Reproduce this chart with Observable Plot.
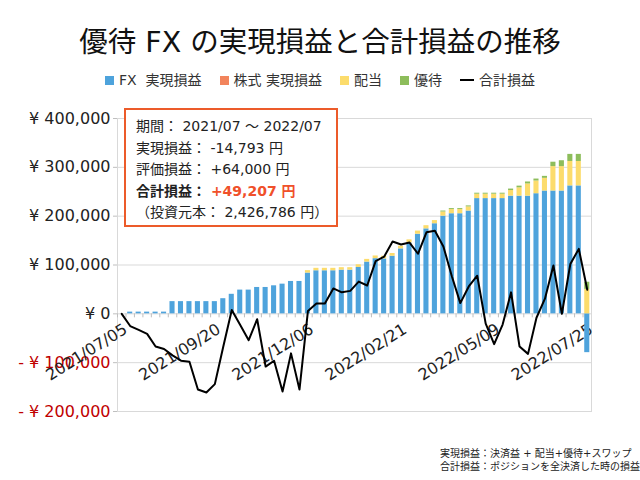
<!DOCTYPE html>
<html><head><meta charset="utf-8">
<script src="https://cdn.jsdelivr.net/npm/d3@7"></script>
<script src="https://cdn.jsdelivr.net/npm/@observablehq/plot@0.6"></script>
<style>
body{margin:0;background:#fff;}
#wrap{position:relative;width:640px;height:480px;overflow:hidden;font-family:"DejaVu Sans","Noto Sans CJK JP",sans-serif;color:#222;}
#chart{position:absolute;left:0;top:0;}
#title{position:absolute;left:0;width:640px;top:25px;text-align:center;font-size:28.5px;line-height:36px;color:#111;}
#legend{position:absolute;left:0;width:640px;top:71px;display:flex;justify-content:center;align-items:center;gap:18px;font-size:14px;line-height:18px;color:#333;}
#legend .it{display:flex;align-items:center;white-space:pre;}
#legend .sw{display:inline-block;width:9px;height:9px;margin-right:5px;}
#legend .ln{display:inline-block;width:14px;height:2px;background:#000;margin-right:5px;}
#box{position:absolute;left:124px;top:108px;border:2px solid #ec5b2a;background:#fff;padding:6px 0 0 10px;box-sizing:border-box;width:214px;height:119px;font-size:14px;line-height:21.5px;color:#222;white-space:pre;}
#box b{font-weight:bold;}
#box .hl{color:#f0502a;font-weight:bold;}
#note{position:absolute;left:440px;top:447px;font-size:10px;line-height:13px;color:#222;white-space:pre;}
</style></head>
<body>
<div id="wrap">
  <div id="chart"></div>
  <div id="title">優待 FX の実現損益と合計損益の推移</div>
  <div id="legend"></div>
  <div id="box"></div>
  <div id="note"></div>
</div>
<script>
// ---- data ----
const dates = [
 "2021/07/05","2021/07/12","2021/07/19","2021/07/26","2021/08/02","2021/08/09","2021/08/16","2021/08/23","2021/08/30",
 "2021/09/06","2021/09/13","2021/09/20","2021/09/27","2021/10/04","2021/10/11","2021/10/18","2021/10/25",
 "2021/11/01","2021/11/08","2021/11/15","2021/11/22","2021/11/29","2021/12/06","2021/12/13","2021/12/20","2021/12/27",
 "2022/01/03","2022/01/10","2022/01/17","2022/01/24","2022/01/31","2022/02/07","2022/02/14","2022/02/21","2022/02/28",
 "2022/03/07","2022/03/14","2022/03/21","2022/03/28","2022/04/04","2022/04/11","2022/04/18","2022/04/25",
 "2022/05/02","2022/05/09","2022/05/16","2022/05/23","2022/05/30","2022/06/06","2022/06/13","2022/06/20","2022/06/27",
 "2022/07/04","2022/07/11","2022/07/18","2022/07/25"];
const labelDates = ["2021/07/05","2021/09/20","2021/12/06","2022/02/21","2022/05/09","2022/07/25"];
const seriesNames = ["FX  実現損益","株式 実現損益","配当","優待"];
const seriesColors = ["#4ea3dc","#f2845c","#fcdc6c","#8dbd5b"];
const fx = [0,3500,3500,3500,3500,3500,25000,25000,25000,25000,25000,25000,31000,40000,48600,48600,54000,54000,57400,60800,66300,66300,
 83500,88200,88200,88200,89500,89500,95000,106000,113000,112500,118000,133000,145000,163000,174000,184500,200000,205000,205000,210500,
 236000,236000,236000,236000,241000,241000,241000,246000,251500,251500,251500,262000,262000,-79500];
const kabu = [0,0,0,0,0,0,0,0,0,0,0,0,0,0,0,0,0,0,0,0,0,0,0,0,0,0,0,0,0,0,0,0,0,0,0,0,0,0,0,0,0,0,0,0,0,0,0,0,0,0,0,0,0,0,0,0];
const haito = [0,0,0,0,0,0,0,0,0,0,0,0,0,0,0,0,0,0,0,0,0,0,
 5000,5000,5000,5000,5000,5000,5500,5500,5500,5500,5500,5500,6500,6500,6500,6500,8500,8500,8500,8500,
 9000,9000,9000,9000,11500,17000,25000,26000,26000,50000,50000,50000,50000,50000];
const yutai = [0,0,0,0,0,0,0,0,0,0,0,0,0,0,0,0,0,0,0,0,0,0,0,0,0,0,0,0,0,0,0,0,0,0,0,0,0,0,
 2000,2000,2000,2000,2000,2000,2000,2000,3000,3500,4000,4000,4000,9000,12000,14500,14500,14700];
const total = [0,-25000,-33000,-41000,-67000,-72000,-85000,-96000,-98000,-155000,-161000,-144000,-67000,8000,-23000,-54000,
 -11000,-108000,-96000,-159000,-81000,-155000,6000,21000,21000,52000,44000,47000,66000,58000,108000,117000,148000,142000,
 146000,123000,167000,170000,138000,77000,22000,56000,78000,-20000,-62000,-22000,44000,-67000,-82000,-8000,31000,99000,
 0,102000,133000,49207];
const yTicks = [-200000,-100000,0,100000,200000,300000,400000];
const boxLines = [
  ["期間： 2021/07 ～ 2022/07"],
  ["実現損益： -14,793 円"],
  ["評価損益： +64,000 円"],
  ["合計損益： ", "+49,207 円"],
  ["（投資元本： 2,426,786 円）"]];
const notes = ["実現損益：決済益 + 配当+優待+スワップ","合計損益：ポジションを全決済した時の損益"];

// ---- tables ----
const seriesArrays = [fx,kabu,haito,yutai];
const barRows = [];
dates.forEach((d,i)=>seriesArrays.forEach((arr,k)=>barRows.push({date:d, series:seriesNames[k], value:arr[i]})));
const lineRows = dates.map((d,i)=>({date:d, value:total[i]}));

// ---- layout ----
const W=640,H=480,mL=117,mR=49,mT=118,mB=69;
const step=(W-mL-mR)/dates.length;
const unitsPerPx=600000/(H-mT-mB);
const fmt=d3.format(",");
const font='"DejaVu Sans","Noto Sans CJK JP",sans-serif';

const chart = Plot.plot({
  width:W, height:H, marginLeft:mL, marginRight:mR, marginTop:mT, marginBottom:mB,
  style:{background:"transparent", color:"#bfbfbf", fontFamily:font, overflow:"visible"},
  x:{type:"band", domain:dates, paddingInner:0.4, paddingOuter:0.2, round:false, axis:null},
  y:{domain:[-200000,400000], ticks:yTicks, tickSize:4, tickFormat:()=>"", label:null, line:true},
  color:{domain:seriesNames, range:seriesColors},
  marks:[
    Plot.ruleY(yTicks,{stroke:"#d9d9d9"}),
    Plot.frame({stroke:"#d9d9d9"}),
    Plot.ruleX(dates,{x:d=>d, y1:()=>0, y2:()=>-4*unitsPerPx, dx:-step/2, stroke:"#bfbfbf"}),
    Plot.text(yTicks.filter(v=>v>=0),{y:d=>d, text:d=>"¥ "+fmt(d), frameAnchor:"left", textAnchor:"end", dx:-7, fill:"#222", fontSize:16}),
    Plot.text(yTicks.filter(v=>v<0),{y:d=>d, text:d=>"- ¥ "+fmt(-d), frameAnchor:"left", textAnchor:"end", dx:-7, fill:"#c00000", fontSize:16}),
    Plot.text(labelDates,{x:d=>d, y:()=>0, text:d=>d, rotate:-32, textAnchor:"end", dx:4, dy:14, fill:"#222", fontSize:16}),
    Plot.barY(barRows,{x:"date", y:"value", fill:"series"}),
    Plot.line(lineRows,{x:"date", y:"value", stroke:"#000", strokeWidth:2})
  ]
});
document.getElementById("chart").appendChild(chart);

// legend
const lg=document.getElementById("legend");
seriesNames.forEach((n,k)=>{
  const it=document.createElement("span"); it.className="it";
  const sw=document.createElement("span"); sw.className="sw"; sw.style.background=seriesColors[k];
  it.appendChild(sw); it.appendChild(document.createTextNode(n)); lg.appendChild(it);
});
{const it=document.createElement("span"); it.className="it";
 const ln=document.createElement("span"); ln.className="ln"; it.appendChild(ln);
 it.appendChild(document.createTextNode("合計損益")); lg.appendChild(it);}

// annotation box
const bx=document.getElementById("box");
boxLines.forEach((parts,i)=>{
  const dv=document.createElement("div");
  if(parts.length===2){
    const b=document.createElement("b"); b.textContent=parts[0]; dv.appendChild(b);
    const h=document.createElement("span"); h.className="hl"; h.textContent=parts[1]; dv.appendChild(h);
  } else dv.textContent=parts[0];
  bx.appendChild(dv);
});
document.getElementById("note").textContent=notes.join("\n");
</script>
</body></html>
